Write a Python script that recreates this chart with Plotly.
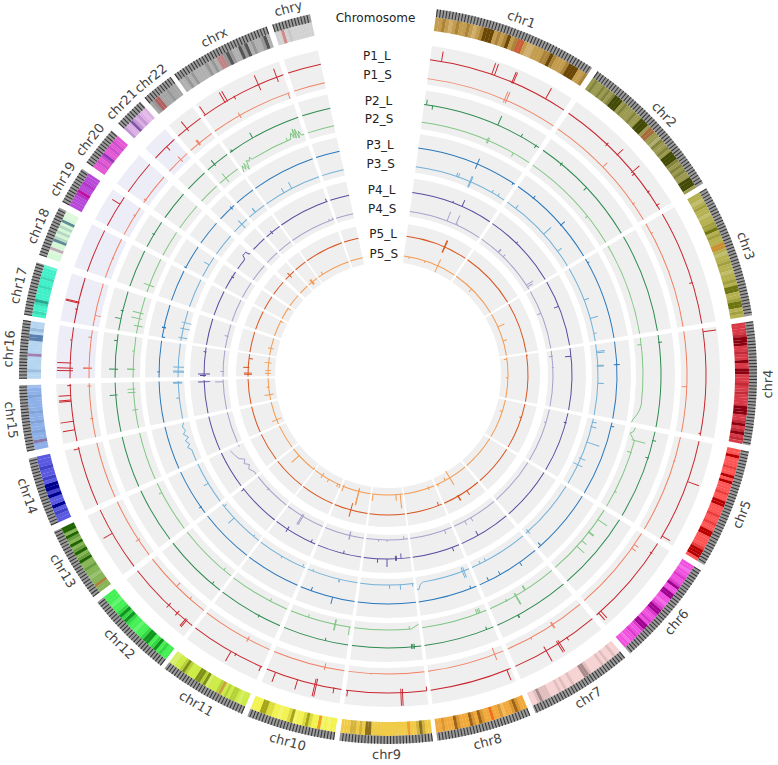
import math
import plotly.graph_objects as go

CHROMS = ["chr1","chr2","chr3","chr4","chr5","chr6","chr7","chr8","chr9","chr10","chr11","chr12",
          "chr13","chr14","chr15","chr16","chr17","chr18","chr19","chr20","chr21","chr22","chrx","chry"]
CHR_START = [7.6,34.6,59.6,81.6,102,122,140,157.3,173,188.4,203.3,218,233,245.9,258,269.4,279.4,289,298,305.2,313,318.7,324.6,341.7]
CHR_END = [33.6,58.7,80.7,101,121,139,156.4,172.3,187.6,202.4,217.3,232,244.9,256.9,268.4,278.6,287.8,297,304,311.5,317.8,323.9,340.8,347.8]

# stain strings, one letter per equal slice of the chromosome (a light, b base, c mid, d dark, r centromere)
STAINS = {
 "chr1":"bbcbabcbbcbabcdddbcbcdbcrrbaabbbccdcbbbcdddbbc",
 "chr2":"bcbbcbcbcdddbcbbbcbbdddbrrbbacbbcbdddcbcbcbbdddb",
 "chr3":"bbabcbbabbccdbcbbrrbabbcbbabbcbddbbcddbcb",
 "chr4":"bbbbcdddbbcbbdbbddbbbcbbcbbbbdddbbcdbcdbcb",
 "chr5":"bbdbbbcbbdbdbbbcbbddbbbcbbcbbddbbbbcdddb",
 "chr6":"bbabbcbbcdbbddbbabcddcbbcbddcbbcbbabb",
 "chr7":"bbcbbcbcbbbbcddbbbbcbbcbcbbbcccdcbb",
 "chr8":"bbcdcbbacbbrbbcdbcdbbbcdbbbcbb",
 "chr9":"bbcdcbbrbbbbbbbbbbbbddbcbccbbb",
 "chr10":"bbabarbbcdcbbadcbbabbccddbbb",
 "chr11":"bbabccbcbrcbbbadcddbbbcdcbbaa",
 "chr12":"bbcbdcbddcbbabbcdcdcbbabbb",
 "chr13":"bbrbbabbcbbdcbdcbdbcdbdd",
 "chr14":"bbcbdbbdcddbcbbcbbb",
 "chr15":"bbrbbcbbcbbcbbbbcbba",
 "chr16":"bbcbbbbrbbbbddbcbb",
 "chr17":"bcbbcdbbbbcbbcbbba",
 "chr18":"bbarbbdcbcbcbdbaa",
 "chr19":"bbbbcrbbcbbb",
 "chr20":"bbcbcdbbcbcbb",
 "chr21":"cbbdcbcbab",
 "chr22":"bcrrbbbcbbb",
 "chrx":"bbcbcbbbbcbcbrrcdcbbdcdbcbbcdb",
 "chry":"bbrbcbbbbbbb",
}
CHR_BASE = ["#C49C4E","#9C9A50","#B5B050","#D83A48","#FF5555","#F050E0","#F7D2D2","#F2A93C","#F0CB48","#F2F250","#CDEB45","#45F055",
            "#85B555","#5A5AE0","#8DB0E8","#B5D5F0","#40F0C8","#D5F7D5","#B848D8","#E558D5","#DDB0E5","#A5A5A5","#B0B0B0","#D2D2D2"]
CHR_DARK = ["#6B4705","#424A05","#6E7410","#8B0010","#B80000","#A00090","#A98A8A","#9E6415","#8A7020","#A5A515","#7F9015","#10951F",
            "#1F6400","#000090","#6080B0","#5A80AD","#28A88C","#608A98","#B000A0","#9038B8","#8055A8","#6A7078","#555555","#ABABAB"]
CHR_CEN = ["#C8603A","#A86A3A","#C89030","#C84050","#E84040","#D040C0","#E09090","#F07020","#F0A030","#F0A020","#C8A040","#30C040",
           "#B08040","#8030A0","#8878A8","#A080B0","#40B0A0","#C0A8B8","#C010A0","#C040A0","#9050B0","#B06060","#C08585","#D08A8A"]

TRACK_NAMES = ["P1_L","P1_S","P2_L","P2_S","P3_L","P3_S","P4_L","P4_S","P5_L","P5_S"]
TRACK_COLORS = ["#C9262E","#F27F62","#2E8B50","#80C684","#2A78BC","#72B0D8","#5C4BA0","#A5A2CC","#D9541E","#F49A50"]

# (chromosome, fraction along chromosome, peak outward, peak inward)
P1_L = [("chr1",.08,10,0),("chr1",.44,12,0),("chr1",.46,12,0),("chr1",.59,11,1),("chr1",.6,11,1),("chr1",.85,12,0),
 ("chr2",.37,2,2),("chr2",.48,8,1),("chr2",.65,9,2),("chr2",.67,1,3),("chr2",.84,2,1),("chr2",.96,3,1),
 ("chr3",.64,0,3),("chr4",.03,13,0),("chr4",.98,0,2),("chr5",.4,12,0),("chr5",.97,9,0),
 ("chr6",.12,1,2),("chr6",.94,9,0),("chr6",.97,9,0),("chr7",.35,3,1),("chr7",.45,10,3),("chr7",.47,10,3),("chr7",.62,12,5),
 ("chr8",.05,11,0),("chr9",.0,0,4),("chr9",.3,13,4),("chr9",.32,13,4),("chr9",.98,6,0),
 ("chr10",.1,5,1),("chr10",.33,12,6),("chr10",.35,12,6),("chr10",.58,10,0),("chr10",.88,10,0),
 ("chr11",.02,5,0),("chr11",.38,2,1),("chr11",.45,11,0),("chr12",.1,8,2),("chr12",.12,8,2),("chr12",.25,3,3),("chr12",.4,3,3),
 ("chr13",.6,10,0),("chr14",.97,5,1),("chr15",.2,12,0),("chr15",.35,13,0),("chr15",.7,12,0),("chr15",.72,12,0),("chr15",.8,12,0),("chr15",.97,3,1),
 ("chr16",.15,13,3),("chr16",.2,13,3),("chr16",.3,13,1),("chr16",.75,2,0),
 ("chr17",.3,2,1),("chr17",.44,13,1),("chr17",.46,13,1),("chr19",.75,9,0),("chr21",.6,0,5),
 ("chr22",.4,9,3),("chrx",.02,10,0),("chrx",.28,11,1),("chrx",.31,11,1),("chrx",.4,1,3),("chrx",.7,10,6),("chrx",.92,9,5)]
P1_S = [("chr1",.59,9,3),("chr1",.605,9,3),("chr2",.47,6,0),("chr2",.85,2,1),("chr3",.1,2,0),("chr4",.55,0,5),
 ("chr5",.25,1,1),("chr6",.15,5,0),("chr6",.2,5,0),("chr7",.4,4,3),("chr7",.41,4,3),("chr7",.7,2,0),("chr8",.12,6,7),
 ("chr9",.7,1,0),("chr10",.27,3,4),("chr11",.33,3,3),("chr12",.25,0,3),("chr12",.5,0,5),("chr13",.3,3,2),
 ("chr15",.35,2,1),("chr15",.95,2,2),("chr16",.2,6,3),("chr16",.215,6,3),("chr16",.85,3,0),("chr17",.25,0,6),
 ("chr18",.5,1,1),("chr19",.7,2,1),("chr20",.1,2,1),("chr21",.65,4,3),("chr22",.38,4,2),("chr22",.42,4,2),("chr22",.4,4,2),
 ("chrx",.35,3,3),("chrx",.98,0,6)]
P2_L = [("chr1",.02,5,0),("chr1",.07,0,4),("chr1",.62,10,0),("chr1",.83,3,0),("chr1",.97,1,3),("chr2",.2,2,2),("chr2",.5,0,4),
 ("chr4",.08,3,1),("chr5",.1,3,1),("chr5",.3,1,3),("chr7",.7,3,0),("chr7",.71,3,0),("chr8",.1,0,3),
 ("chr9",.1,2,3),("chr9",.12,2,3),("chr9",.14,2,3),("chr10",.35,0,3),("chr11",.35,2,1),("chr12",.15,0,3),
 ("chr15",.75,6,2),("chr16",.2,6,3),("chr16",.85,3,0),("chr17",.3,6,0),("chr17",.5,2,1),
 ("chr19",.5,2,1),("chr22",.35,5,2),("chrx",.03,2,1),("chrx",.35,6,0)]
P2_S = [("chr1",.59,3,3),("chr1",.6,3,3),("chr1",.84,0,4),("chr2",.7,0,3),("chr4",.08,0,4),("chr5",.15,11,3),("chr5",.3,1,4),("chr5",.8,2,1),
 ("chr6",.15,11,1),("chr6",.35,6,1),("chr6",.36,6,1),("chr6",.5,6,0),("chr6",.6,10,0),
 ("chr7",.45,0,5),("chr7",.46,0,5),("chr7",.6,10,3),("chr7",.61,10,3),("chr7",.75,1,2),("chr8",.1,0,5),("chr8",.125,0,5),("chr8",.15,0,5),
 ("chr9",.15,0,3),("chr10",.02,8,0),("chr10",.25,6,5),("chr10",.26,6,5),("chr10",.7,0,3),("chr11",.3,0,3),("chr12",.15,0,3),("chr13",.8,3,0),
 ("chr15",.4,3,3),("chr15",.78,6,2),("chr15",.85,6,2),
 ("chr16",.2,6,2),("chr16",.21,6,2),("chr16",.65,2,0),("chr17",.2,4,5),("chr17",.4,8,3),("chr17",.55,8,3),
 ("chr18",.2,6,5),("chr22",.35,6,5),("chrx",.75,3,0)]
P3_L = [("chr1",.59,6,5),("chr1",.98,0,2),("chr2",.2,3,1),("chr2",.6,5,1),("chr3",.05,2,0),("chr4",.3,3,3),("chr5",.05,3,0),("chr6",.95,0,4),
 ("chr7",.65,0,4),("chr7",.85,0,4),("chr7",.3,4,0),("chr8",.1,0,3),("chr10",.4,7,0),("chr10",.8,0,4),("chr13",.15,2,1),
 ("chr16",.15,2,1),("chr17",.02,0,3),("chr17",.3,2,2),("chr17",.31,2,2),("chr19",.0,2,1),("chr21",.8,2,2)]
P3_S = [("chr1",.44,4,0),("chr1",.46,4,0),("chr1",.59,6,6),("chr1",.6,6,6),("chr1",.85,3,0),("chr1",.92,3,0),
 ("chr2",.12,4,0),("chr2",.55,10,0),("chr2",.8,5,0),("chr3",.45,5,0),("chr3",.7,8,0),("chr3",.9,3,0),
 ("chr4",.1,8,0),("chr4",.12,8,0),("chr4",.3,6,1),("chr4",.31,6,1),("chr4",.55,6,0),("chr5",.05,4,1),("chr5",.12,5,1),("chr5",.35,13,0),("chr5",.6,5,2),("chr5",.7,5,5),
 ("chr6",.95,3,3),("chr7",.75,0,3),("chr7",.85,0,3),("chr8",.1,7,4),("chr8",.13,7,4),("chr9",.02,3,0),("chr9",.25,5,0),("chr9",.45,4,0),
 ("chr10",.35,3,0),("chr10",.36,3,0),("chr10",.9,0,2),("chr11",.05,0,3),("chr11",.5,2,0),("chr12",.13,0,2),("chr12",.65,8,0),("chr12",.95,0,3),("chr13",.5,5,1),
 ("chr15",.55,3,0),("chr15",.94,5,4),("chr15",.96,5,4),("chr16",.15,5,6),("chr16",.18,5,6),("chr16",.3,5,6),
 ("chr17",.1,3,6),("chr17",.4,3,7),("chr17",.6,3,7),("chr19",.6,6,0),("chr21",.6,5,5),("chr22",.4,5,0),("chr22",.42,5,0),("chrx",.35,5,0),("chrx",.5,7,0)]
P4_L = [("chr1",.5,2,0),("chr1",.62,7,0),("chr2",.4,2,0),("chr3",.4,0,5),("chr4",.13,0,6),("chr5",.16,1,2),("chr7",.65,0,5),
 ("chr8",.15,4,0),("chr9",.2,0,5),("chr9",.3,2,3),("chr9",.32,2,3),("chr9",.5,8,0),("chr9",.7,4,0),("chr10",.4,0,3),("chr11",.1,0,3),("chr11",.7,3,3),("chr12",.97,3,0),
 ("chr15",.95,6,6),("chr16",.05,4,2),("chr16",.1,6,6),("chr16",.85,2,1),("chr19",.7,1,2),("chr22",.4,2,2),("chrx",.98,3,0)]
P4_S = [("chr1",.515,10,0),("chr1",.64,10,0),("chr1",.66,2,0),("chr2",.3,4,0),("chr2",.31,4,0),("chr2",.4,3,0),("chr2",.93,8,0),("chr2",.96,6,0),("chr3",.4,0,4),
 ("chr4",.1,1,3),("chr4",.3,1,1),("chr5",.25,0,2),("chr7",.6,4,0),("chr7",.75,4,0),("chr8",.18,4,0),("chr9",.1,0,3),("chr9",.5,2,0),("chr9",.7,2,0),
 ("chr10",.35,4,4),("chr10",.36,4,4),("chr11",.55,10,2),("chr11",.58,10,2),("chr12",.6,2,1),
 ("chr15",.93,8,0),("chr16",.2,3,1),("chr17",.5,3,1),("chrx",.9,2,0),("chrx",.98,2,0)]
P5_L = [("chr1",.62,7,6),("chr1",.63,7,6),("chr4",.02,1,0),("chr5",.3,0,2),("chr7",.35,5,0),("chr7",.6,5,1),("chr7",.61,5,1),("chr8",.1,0,4),
 ("chr10",.5,7,7),("chr16",.1,4,4),("chr16",.15,4,4),("chr16",.4,5,1),("chr16",.8,0,4),("chr21",.5,3,3)]
P5_S = [("chr1",.1,0,2),("chr1",.4,0,2),("chr1",.65,7,7),("chr2",.4,0,4),("chr3",.32,7,0),("chr3",.66,4,0),("chr4",.04,0,3),("chr4",.5,0,2),("chr5",.3,0,3),
 ("chr7",.55,8,8),("chr7",.7,0,3),("chr7",.95,2,0),("chr8",.2,2,2),("chr9",.08,14,0),("chr9",.22,6,0),("chr9",.97,7,0),
 ("chr10",.4,14,3),("chr10",.41,14,3),("chr10",.95,5,2),("chr11",.02,3,0),("chr11",.1,3,0),("chr11",.45,3,0),("chr11",.7,3,3),("chr12",.02,0,2),("chr12",.7,10,0),
 ("chr14",.2,5,5),("chr15",.25,5,4),("chr15",.6,2,1),("chr16",.15,3,3),("chr16",.3,3,3),("chr16",.7,4,3),("chr17",.4,3,3),("chr18",.95,0,3),("chr19",.95,0,3),
 ("chr22",.35,3,3),("chr22",.4,3,3),("chr22",.45,3,3),("chrx",.15,3,0)]
TRACK_PEAKS = [P1_L,P1_S,P2_L,P2_S,P3_L,P3_S,P4_L,P4_S,P5_L,P5_S]

# winding stretches: (track, chromosome, [(fraction, value), ...])
WIGGLES = [
 ("P2_S","chr4",[(.78,0),(.84,-1),(.9,-3),(.96,-6),(1,-7)]),
 ("P2_S","chr5",[(0,-2),(.05,-3),(.08,-6),(.12,-3),(.16,0)]),
 ("P2_S","chr9",[(0,-4),(.06,-2),(.12,0)]),
 ("P2_S","chrx",[(.0,-6),(.03,0),(.05,-5),(.07,1),(.09,-7),(.12,2),(.15,0),(.18,3),(.2,0),(.24,0)]),
 ("P2_S","chrx",[(.8,0),(.83,6),(.85,0),(.87,9),(.88,-1),(.9,8),(.92,-2),(.94,5),(.96,0)]),
 ("P3_S","chr8",[(.88,0),(.93,2),(.97,7),(1,6)]),
 ("P3_S","chr14",[(.3,0),(.38,3),(.45,0),(.55,3),(.62,-1),(.72,3),(.8,0),(.9,2),(1,0)]),
 ("P4_S","chr13",[(.1,0),(.25,3),(.35,0),(.45,4),(.55,1),(.65,6),(.8,8),(.95,10)]),
 ("P4_L","chr20",[(.55,0),(.62,1),(.68,4),(.8,4),(.88,4),(.93,0),(1,0)]),
]

TRACK_RADIUS = [318,299,273,255,229,210,184,165,140,120]
BANDS = [(293,332),(248,287),(204,243),(160,198),(113,152)]
LAVENDER_CHROMS = ["chr16","chr17","chr18","chr19","chr20","chr21"]
LABEL_RADIUS = 380
IDEO = (347,361)
TICK = (361,369)

def mix(c1, c2, t):
    a = [int(c1[i:i+2],16) for i in (1,3,5)]
    b = [int(c2[i:i+2],16) for i in (1,3,5)]
    return "#%02X%02X%02X" % tuple(round(x+(y-x)*t) for x,y in zip(a,b))

fig = go.Figure()
idx = {c:i for i,c in enumerate(CHROMS)}
spans = [e-s for s,e in zip(CHR_START,CHR_END)]
mids = [(s+e)/2 for s,e in zip(CHR_START,CHR_END)]

def bars(theta, width, base, height, color):
    fig.add_trace(go.Barpolar(theta=theta, width=width, base=base, r=height,
                              marker=dict(color=color, line=dict(width=0)), hoverinfo="skip", showlegend=False))

# grey bands
for k,(r0,r1) in enumerate(BANDS):
    cols = ["#EDEDF8" if k==0 and c in LAVENDER_CHROMS else "#EFEFEF" for c in CHROMS]
    bars(mids, spans, [r0]*24, [r1-r0]*24, cols)

# ideogram
th,wd,cl = [],[],[]
for i,c in enumerate(CHROMS):
    s = STAINS[c]
    w = spans[i]/len(s)
    for j,ch in enumerate(s):
        th.append(CHR_START[i]+(j+.5)*w)
        wd.append(w+(.03 if j<len(s)-1 else 0))
        cl.append({"a":mix(CHR_BASE[i],"#FFFFFF",.18),"b":CHR_BASE[i],"c":mix(CHR_BASE[i],CHR_DARK[i],.28),"d":CHR_DARK[i],"r":CHR_CEN[i]}[ch])
bars(th,wd,[IDEO[0]]*len(th),[IDEO[1]-IDEO[0]]*len(th),cl)

# tick ring
bars(mids,spans,[TICK[0]]*24,[TICK[1]-TICK[0]]*24,"#9A9A9A")
tt=[]
for s,e in zip(CHR_START,CHR_END):
    a=s+.1
    while a<e:
        tt.append(a); a+=.5
bars(tt,[.16]*len(tt),[TICK[0]]*len(tt),[TICK[1]-TICK[0]]*len(tt),"#333333")

# tracks
for name,col,rad,peaks in zip(TRACK_NAMES,TRACK_COLORS,TRACK_RADIUS,TRACK_PEAKS):
    th,wd,ba,he=[],[],[],[]
    lw=0.95*57.3/rad
    for i,c in enumerate(CHROMS):
        cuts=[(0,1)]
        for t,ch,pts in WIGGLES:
            if t==name and ch==c:
                a,b=pts[0][0],pts[-1][0]
                new=[]
                for x,y in cuts:
                    if x<a: new.append((x,min(y,a)))
                    if y>b: new.append((max(x,b),y))
                cuts=new
        for x,y in cuts:
            a0=CHR_START[i]+x*spans[i]; a1=CHR_START[i]+y*spans[i]
            th.append((a0+a1)/2); wd.append(a1-a0); ba.append(rad-.5); he.append(1.0)
    for c,f,up,dn in peaks:
        i=idx[c]
        th.append(CHR_START[i]+f*spans[i]); wd.append(lw); ba.append(rad-dn); he.append(up+dn)
    bars(th,wd,ba,he,col)
    for t,ch,pts in WIGGLES:
        if t==name:
            i=idx[ch]
            fig.add_trace(go.Scatterpolar(theta=[CHR_START[i]+p[0]*spans[i] for p in pts],r=[rad+p[1] for p in pts],
                mode="lines",line=dict(color=col,width=1),hoverinfo="skip",showlegend=False))

# track labels
fig.add_trace(go.Scatterpolar(theta=[358]*11,r=[356]+TRACK_RADIUS,mode="text",text=["Chromosome"]+TRACK_NAMES,
    textfont=dict(family="DejaVu Sans",size=12,color="#222222"),hoverinfo="skip",showlegend=False))

W,H=778,765
CX,CY,PR=388,375,375
ann=[]
for c,m in zip(CHROMS,mids):
    a=math.radians(m)
    rot=m if (m<90 or m>270) else m-180
    if rot>180: rot-=360
    ann.append(dict(x=(CX+LABEL_RADIUS*math.sin(a))/W,y=1-(CY-LABEL_RADIUS*math.cos(a))/H,xref="paper",yref="paper",
        text=c,showarrow=False,textangle=rot,xanchor="center",yanchor="middle",
        font=dict(family="DejaVu Sans",size=13,color="#444444")))

fig.update_layout(width=W,height=H,margin=dict(l=0,r=0,t=0,b=0),paper_bgcolor="white",showlegend=False,annotations=ann,
    polar=dict(domain=dict(x=[(CX-PR)/W,(CX+PR)/W],y=[1-(CY+PR)/H,1-(CY-PR)/H]),bgcolor="white",barmode="overlay",
        radialaxis=dict(range=[0,PR],visible=False),
        angularaxis=dict(rotation=90,direction="clockwise",visible=False,thetaunit="degrees")))
fig.write_html("out.html", config=dict(displayModeBar=False),
               post_script="document.body.style.margin='0';document.documentElement.style.overflow='hidden';")
